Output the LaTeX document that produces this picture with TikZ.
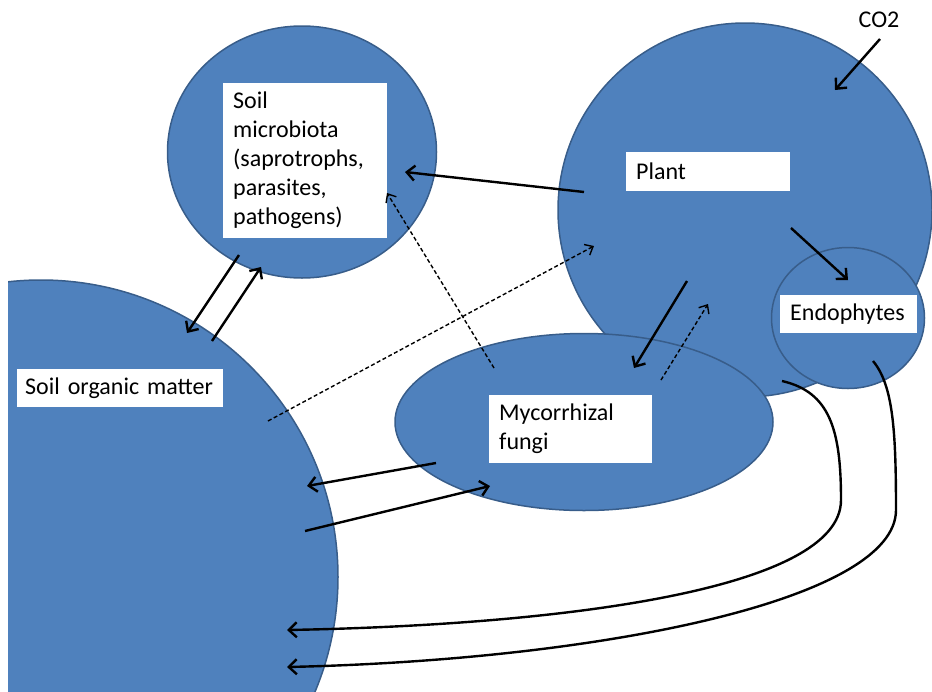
\documentclass[tikz,border=0pt]{standalone}
\usepackage{fontspec}
\setmainfont{Carlito}
\usetikzlibrary{shapes.geometric,arrows.meta}
\definecolor{blobblue}{RGB}{79,129,189}
\definecolor{blobedge}{RGB}{56,93,138}

\begin{document}
\begin{tikzpicture}[
        x=1pt, y=-1pt,
        blob/.style={draw=blobedge, fill=blobblue, line width=1.5pt, inner sep=0pt},
        tag/.style={fill=white, anchor=north west, align=left,
            inner xsep=10pt, inner ysep=0pt,
            font=\fontsize{24}{29}\selectfont},
        flow/.style={-{Straight Barb[length=8pt,width=15pt]}, line width=2.4pt},
        hint/.style={-{Straight Barb[length=7pt,width=12pt]}, line width=1.4pt,
            dash pattern=on 4pt off 2.5pt}
    ]
        \useasboundingbox (0,0) rectangle (932,691);
        % compartments
        \begin{scope}
            \clip (8,0) rectangle (932,691);
            \node[blob, circle, minimum size=594pt] (som) at (41,577) {};
        \end{scope}
        \node[blob, ellipse, minimum width=269pt, minimum height=252pt] (micro) at (302,152) {};
        \node[blob, circle, minimum size=374pt] (plant) at (745,210) {};
        \node[blob, ellipse, minimum width=153pt, minimum height=141pt] (endo) at (848,318) {};
        \node[blob, ellipse, minimum width=378pt, minimum height=177pt] (myco) at (584,422) {};
        % labels
        \node[tag, text width=190pt, inner xsep=8pt, minimum height=38pt] (somtxt) at (17,369) {Soil organic matter};
        \node[tag, text width=144pt, minimum height=155pt] (microtxt) at (223,83)
            {Soil\\microbiota\\(saprotrophs,\\parasites,\\pathogens)};
        \node[tag, text width=144pt, minimum height=39pt] (planttxt) at (626,152) {Plant};
        \node[tag, text width=117pt, minimum height=38pt] (endotxt) at (780,295) {Endophytes};
        \node[tag, text width=143pt, minimum height=68pt] (mycotxt) at (489,395) {Mycorrhizal\\fungi};
        \node[font=\fontsize{24}{29}\selectfont, inner sep=0pt] (co2) at (879,20) {CO2};
        % arrow ends
        \coordinate (co2tail) at (880,39);   \coordinate (plantTR) at (835,90);
        \coordinate (plantL) at (584,192);   \coordinate (microR) at (405,172);
        \coordinate (mycoT) at (494,368);    \coordinate (microBR) at (387,193);
        \coordinate (somR) at (268,421);     \coordinate (plantLL) at (594,246);
        \coordinate (plantB) at (687,281);   \coordinate (mycoTR) at (634,368);
        \coordinate (mycoTR2) at (661,380);  \coordinate (plantB2) at (708,304);
        \coordinate (plantR) at (791,228);   \coordinate (endoT) at (848,280);
        \coordinate (microB) at (239,255);   \coordinate (somT) at (187,333);
        \coordinate (somT2) at (212,341);    \coordinate (microB2) at (261,267);
        \coordinate (mycoL) at (436,463);    \coordinate (somR1) at (307,486);
        \coordinate (somR2) at (305,531);    \coordinate (mycoL2) at (490,486);
        \coordinate (plantBR) at (782,381);  \coordinate (somR3) at (287,630);
        \coordinate (endoB) at (873,361);    \coordinate (somR4) at (287,667);
        % fluxes
        \draw[flow] (co2tail) -- (plantTR);
        \draw[flow] (plantL) -- (microR);
        \draw[flow] (plantB) -- (mycoTR);
        \draw[flow] (plantR) -- (endoT);
        \draw[flow] (microB) -- (somT);
        \draw[flow] (somT2) -- (microB2);
        \draw[flow] (mycoL) -- (somR1);
        \draw[flow] (somR2) -- (mycoL2);
        \draw[hint] (mycoT) -- (microBR);
        \draw[hint] (somR) -- (plantLL);
        \draw[hint] (mycoTR2) -- (plantB2);
        \draw[flow] (plantBR) .. controls (830,392) and (841,430) .. (841,500)
            .. controls (841,590) and (560,625) .. (somR3);
        \draw[flow] (endoB) .. controls (893,385) and (896,430) .. (896,510)
            .. controls (896,600) and (600,660) .. (somR4);
    \end{tikzpicture}
\end{document}
